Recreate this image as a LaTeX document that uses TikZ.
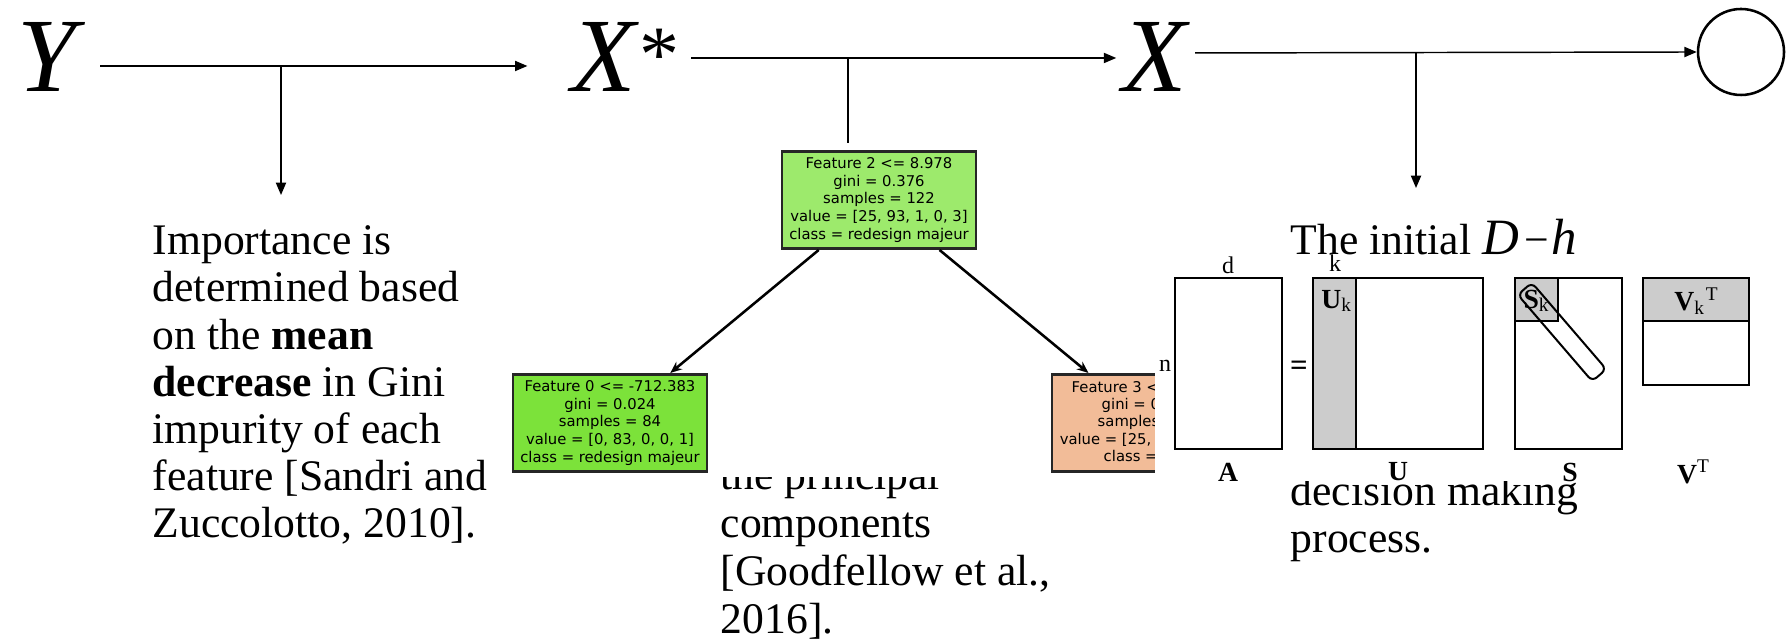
\documentclass[tikz,border=0pt]{standalone}
\usepackage{fontspec}
\setmainfont{Liberation Serif}
\newfontfamily\treefont{DejaVu Sans}
\usetikzlibrary{positioning, arrows.meta}
\definecolor{rootgreen}{RGB}{157,234,108}
\definecolor{leafgreen}{RGB}{124,226,58}
\definecolor{leafsalmon}{RGB}{242,188,152}
\definecolor{svdgray}{RGB}{204,204,204}

\begin{document}
\begin{tikzpicture}[
        x=0.275pt, y=-0.275pt,
        var/.style={font=\fontsize{29}{29}\selectfont\itshape,
            inner sep=0pt, anchor=base west},
        flow/.style={line width=0.4pt,
            -{Triangle[length=3.4pt, width=2.8pt]}},
        note/.style={font=\fontsize{12}{12.98}\selectfont,
            align=left, inner sep=0pt, anchor=base west},
        treebox/.style={draw=black!85, line width=0.8pt,
            minimum width=53.35pt, minimum height=26.7pt,
            inner sep=0pt, align=center,
            font=\treefont\fontsize{4.07}{4.87}\selectfont},
        treeedge/.style={line width=0.7pt,
            -{Stealth[length=3.2pt, width=2.6pt]}},
        mat/.style={draw, line width=0.55pt},
        mlbl/.style={font=\fontsize{6.6}{6.6}\selectfont, inner sep=0pt}
    ]

    \useasboundingbox (0,0) rectangle (1791,644);

    % texts first, the pasted pictures lie on top of them
    % (base of a text block = base of its last line)
    \node[note] (imp) at (152,538)
        {Importance is\\determined based\\on the \textbf{mean}\\
         \textbf{decrease} in Gini\\impurity of each\\
         feature [Sandri and\\Zuccolotto, 2010].};
    \node[note, font=\fontsize{12}{13.2}\selectfont] (pca) at (720,634)
        {the principal\\components\\{[}Goodfellow et al.,\\2016].};
    \node[note] (init) at (1290,255)
        {The initial {\fontsize{14}{14}\selectfont\itshape D}\hspace{1.5pt}−\hspace{0.8pt}{\fontsize{14}{14}\selectfont\itshape h}};
    \node[note] (dec) at (1290,553)
        {decision making\\process.};

    % decision tree picture
    \fill[white] (505,143) rectangle (1160,477);
    \node[treebox, fill=rootgreen] (root) at (879,200)
        {Feature 2 <= 8.978\\gini = 0.376\\samples = 122\\
         value = [25, 93, 1, 0, 3]\\class = redesign majeur};
    \node[treebox, fill=leafgreen] (leafa) at (610,423)
        {Feature 0 <= -712.383\\gini = 0.024\\samples = 84\\
         value = [0, 83, 0, 0, 1]\\class = redesign majeur};
    \node[treebox, fill=leafsalmon] (leafb) at (1149,423) {};
    \foreach \xx/\yy/\txt in {1071/393/{Feature 3 <}, 1101/410/{gini = 0},
            1097/427/{samples}, 1059/445/{value = [25,}, 1103/462/{class =}}
        \node[font=\treefont\fontsize{4.07}{4.87}\selectfont,
              inner sep=0pt, anchor=base west] (leafb\yy) at (\xx,\yy) {\txt};
    \draw[treeedge] (root) -- (leafa);
    \draw[treeedge] (root) -- (leafb);

    % SVD picture
    \fill[white] (1155,257) rectangle (1785,481);
    \fill[svdgray] (1313,278) rectangle (1356,449);
    \fill[svdgray] (1515,278) rectangle (1558,321);
    \fill[svdgray] (1643,278) rectangle (1749,321);
    \draw[mat] (1175,278) rectangle (1282,449);
    \draw[mat] (1313,278) rectangle (1483,449);
    \draw[mat] (1356,278) -- (1356,449);
    \draw[mat] (1515,278) rectangle (1622,449);
    \draw[mat] (1515,321) -- (1558,321) -- (1558,278);
    \draw[mat] (1643,278) rectangle (1749,385);
    \draw[mat] (1643,321) -- (1749,321);
    \node[mat, rounded corners=1.6pt, minimum width=31.4pt,
          minimum height=5.1pt, inner sep=0pt, rotate=-49.3] (band) at (1562,332) {};
    \node[mlbl] (lbld) at (1228,265) {d};
    \node[mlbl] (lblk) at (1335,263) {k};
    \node[mlbl] (lbln) at (1165,366) {n};
    \node[mlbl, font=\fontsize{8.5}{8.5}\selectfont\bfseries] (eq) at (1299,368) {=};
    \node[mlbl, font=\fontsize{7.6}{7.6}\selectfont] (lbluk) at (1337,301) {\textbf{U}\textsubscript{k}};
    \node[mlbl, font=\fontsize{7.6}{7.6}\selectfont] (lblsk) at (1537,301) {\textbf{S}\textsubscript{k}};
    \node[mlbl, font=\fontsize{7.6}{7.6}\selectfont] (lblvk) at (1697,301) {\textbf{V}\textsubscript{k}\textsuperscript{T}};
    \node[mlbl, font=\fontsize{7.6}{7.6}\selectfont] (lbla) at (1228,472) {\textbf{A}};
    \node[mlbl, font=\fontsize{7.6}{7.6}\selectfont] (lblu) at (1398,472) {\textbf{U}};
    \node[mlbl, font=\fontsize{7.6}{7.6}\selectfont] (lbls) at (1570,472) {\textbf{S}};
    \node[mlbl, font=\fontsize{7.6}{7.6}\selectfont] (lblv) at (1694,472) {\textbf{V}\textsuperscript{T}};

    % chain of variables
    \node[var] (Y) at (17,92) {Y};
    \node[var] (Xs) at (571,92)
        {X\hspace{1pt}\raisebox{3pt}{\fontsize{22}{22}\selectfont\upshape *}};
    \node[var] (X) at (1122,92) {X};
    \node[draw, circle, line width=0.7pt, minimum size=23.65pt,
          inner sep=0pt] (out) at (1741,52) {};

    \coordinate (j1) at (281,66);
    \coordinate (j2) at (848,58);
    \coordinate (j3) at (1416,53);
    \coordinate (t1) at (281,195);
    \coordinate (t3) at (1416,188);

    \draw[flow, shorten <=6.3pt, shorten >=12pt] (Y.east |- j1) -- (Xs.west |- j1);
    \draw[flow, shorten <=3pt, shorten >=1.6pt] (Xs.east |- j2) -- (X.west |- j2);
    \draw[flow, shorten <=2pt] (X.east |- j3) -- (out.west);
    \draw[flow] (j1) -- (t1);
    \draw[line width=0.35pt, shorten >=2pt] (j2) -- (j2 |- root.north);
    \draw[flow] (j3) -- (t3);

\end{tikzpicture}
\end{document}
